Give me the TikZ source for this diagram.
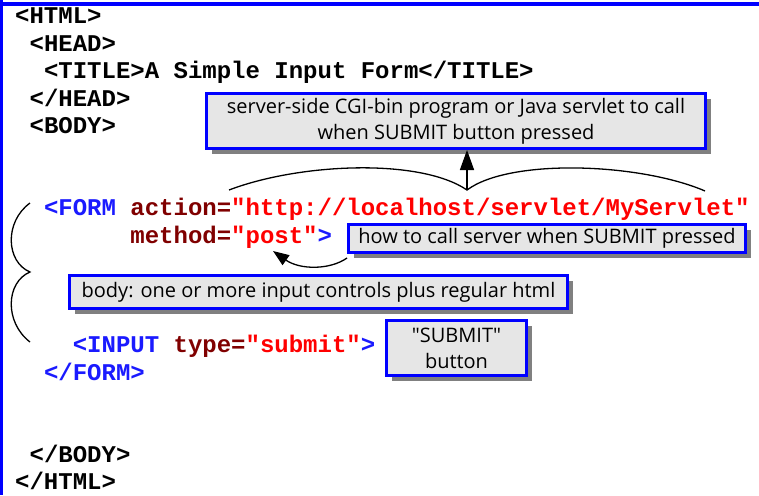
\documentclass[tikz,border=0pt]{standalone}
\usepackage{fontspec}
\setmonofont{Liberation Mono}
\newfontfamily\callfont{Open Sans}
\usetikzlibrary{arrows.meta,shadows}
\definecolor{tagblue}{RGB}{26,26,255}
\definecolor{attrred}{RGB}{128,0,0}
\definecolor{valred}{RGB}{255,0,0}
\definecolor{boxfill}{RGB}{230,230,230}
\definecolor{shadowgray}{RGB}{128,128,128}
\definecolor{frameblue}{RGB}{0,0,255}
\begin{document}
\begin{tikzpicture}[x=1pt,y=-1pt,
  code/.style={anchor=base west, inner sep=0pt, font=\fontsize{24}{27}\selectfont\ttfamily\bfseries},
  callout/.style={draw=frameblue, line width=3pt, fill=boxfill, inner sep=0pt,
    font=\fontsize{20}{26}\selectfont\callfont, align=center,
    drop shadow={opacity=1, fill=shadowgray, shadow xshift=5pt, shadow yshift=-5pt}},
  bracestyle/.style={line width=1.3pt, black},
  arrowstyle/.style={line width=1.5pt, -{Triangle[length=20pt,width=14pt]}},
  curvearrow/.style={line width=1.3pt, -{Triangle[length=16pt,width=12pt]}}
]
\useasboundingbox (0,0) rectangle (759,495);
\fill[white] (0,0) rectangle (759,495);
\draw[frameblue, line width=4pt] (0,4) -- (759,4);
\draw[frameblue, line width=2.5pt] (1.25,0) -- (1.25,495);

% code lines
\node[code] (l0) at (15,24) {<HTML>};
\node[code] (l1) at (29.4,51.4) {<HEAD>};
\node[code] (l2) at (43.8,78.8) {<TITLE>A Simple Input Form</TITLE>};
\node[code] (l3) at (29.4,106.2) {</HEAD>};
\node[code] (l4) at (29.4,133.6) {<BODY>};
\node[code] (l7) at (43.8,215.8) {\textcolor{tagblue}{<FORM} \textcolor{attrred}{action=}\textcolor{valred}{"http://localhost/servlet/MyServlet"}};
\node[code] (l8) at (130.2,243.2) {\textcolor{attrred}{method=}\textcolor{valred}{"post"}\textcolor{tagblue}{>}};
\node[code] (l12) at (72.6,352.8) {\textcolor{tagblue}{<INPUT} \textcolor{attrred}{type=}\textcolor{valred}{"submit"}\textcolor{tagblue}{>}};
\node[code] (l13) at (43.8,380.2) {\textcolor{tagblue}{</FORM>}};
\node[code] (l16) at (29.4,462.4) {</BODY>};
\node[code] (l17) at (15,489.8) {</HTML>};

% callouts
\node[callout, minimum width=499pt, minimum height=55pt] (servlet) at (456,121)
  {server-side CGI-bin program or Java servlet to call\\when SUBMIT button pressed};
\node[callout, minimum width=397pt, minimum height=28pt] (how) at (547,238.5)
  {how to call server when SUBMIT pressed};
\node[callout, minimum width=498pt, minimum height=33pt] (body) at (318.5,292)
  {body: one or more input controls plus regular html};
\node[callout, minimum width=140pt, minimum height=55pt] (submit) at (456.5,348)
  {"SUBMIT"\\button};

% brace over the action URL
\coordinate (bl) at (229,190);
\coordinate (bm) at (467,190);
\coordinate (br) at (705,191);
\draw[bracestyle] (bl) .. controls (300,163) and (420,158) .. (bm)
                  .. controls (510,158) and (640,163) .. (br);
\draw[arrowstyle] (bm) -- (bm |- servlet.south);

% left vertical brace
\coordinate (vt) at (30,203);
\coordinate (vm) at (30,272);
\coordinate (vb) at (30,342);
\draw[bracestyle] (vt) .. controls (4,222) and (6,262) .. (vm)
                  .. controls (6,282) and (4,322) .. (vb);

% curved arrow to "post"
\coordinate (hs) at (347,258);
\coordinate (pt) at (273,251);
\draw[curvearrow] (hs) .. controls (330,270) and (300,270) .. (pt);
\end{tikzpicture}
\end{document}
